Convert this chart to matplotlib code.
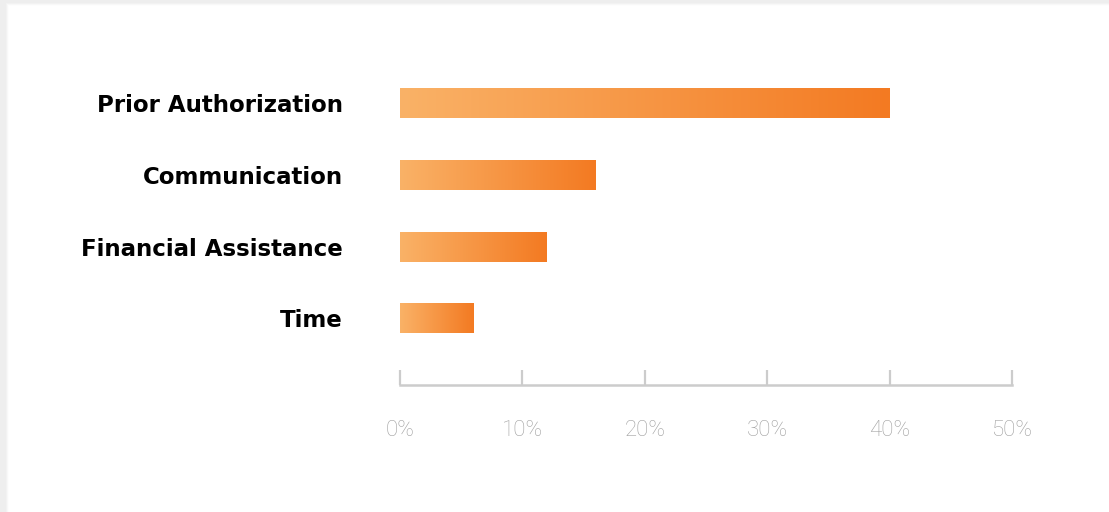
import numpy as np
import matplotlib.pyplot as plt
from matplotlib.colors import LinearSegmentedColormap
from matplotlib.patches import Rectangle

categories = ['Prior Authorization', 'Communication', 'Financial Assistance', 'Time']
values = [40, 16, 12, 6]
xticks = [0, 10, 20, 30, 40, 50]

W, H = 1109, 512
fig = plt.figure(figsize=(W / 100, H / 100), dpi=100)
fig.patch.set_facecolor('#eeeeee')

# white card with a soft edge
for i, a in enumerate([0.25, 0.5, 0.8]):
    off = 3 - i
    fig.patches.append(Rectangle(((9 - off) / W, 0), 1.2, (H - 6 + off) / H,
                                 transform=fig.transFigure, facecolor='white',
                                 edgecolor='none', alpha=a, zorder=-5))
fig.patches.append(Rectangle((9 / W, 0), 1.2, (H - 6) / H, transform=fig.transFigure,
                             facecolor='white', edgecolor='none', zorder=-5))

ax = fig.add_axes([400 / W, (H - 385) / H, 612 / W, 353.2 / H])
ax.set_facecolor('none')
ax.set_zorder(2)

cmap = LinearSegmentedColormap.from_list('orange', ['#fab267', '#f37a22'])
grad = np.linspace(0, 1, 256).reshape(1, -1)
bh = 0.41
ypos = np.arange(len(categories))
for y, v in zip(ypos, values):
    ax.imshow(grad, cmap=cmap, aspect='auto', interpolation='bicubic',
              extent=[0, v, y + bh / 2, y - bh / 2], zorder=2)

ax.set_xlim(0, 50)
ax.set_ylim(3.928, -1)

ax.set_yticks(ypos)
ax.set_yticklabels(categories, fontfamily='DejaVu Sans', fontweight='bold', fontsize=16.5, color='black')
ax.tick_params(axis='y', length=0, pad=41)

ax.set_xticks(xticks)
ax.set_xticklabels([f'{t}%' for t in xticks], fontfamily='Roboto', fontweight='light',
                   fontsize=16, color='#a0a0a0')
ax.tick_params(axis='x', direction='in', length=11, width=1.6, color='#cccccc', pad=25)

for s in ['top', 'right', 'left']:
    ax.spines[s].set_visible(False)
ax.spines['bottom'].set_color('#cccccc')
ax.spines['bottom'].set_linewidth(1.8)

fig.savefig('out.png', dpi=100, facecolor=fig.get_facecolor())
